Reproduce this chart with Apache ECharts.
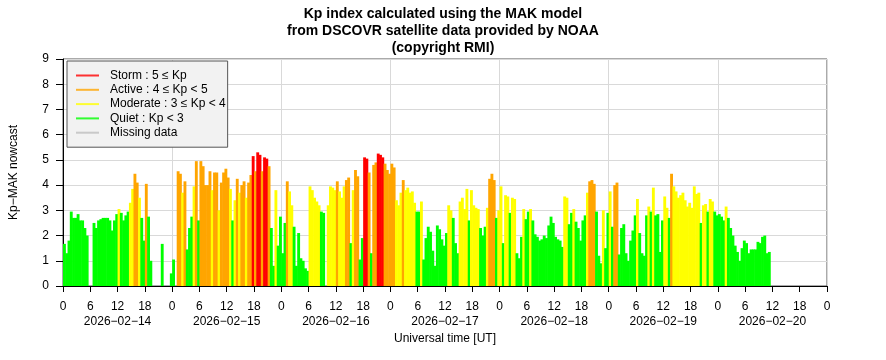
<!DOCTYPE html>
<html><head><meta charset="utf-8">
<script src="https://cdn.jsdelivr.net/npm/echarts@6/dist/echarts.min.js"></script>
<style>html,body{margin:0;padding:0;background:#fff}#c{width:886px;height:360px}</style>
</head><body><div id="c"></div>
<script>
// Kp (MAK nowcast), 30-minute steps starting 2026-02-14 00:00 UT; null = no data
const stepHours = 0.5;
const kp = [
1.67,1.3,1.8,2.95,2.7,2.7,2.85,2.6,2.6,2.3,2.0,null,null,2.5,2.3,2.6,2.65,2.7,2.7,2.7,
2.6,2.2,2.6,2.85,3.05,2.9,2.6,2.8,2.95,3.3,3.85,4.45,4.1,3.5,2.7,1.8,4.05,2.75,1.0,null,
null,null,null,1.67,null,null,null,0.5,1.05,null,4.55,4.45,3.7,4.15,1.45,2.3,2.75,3.95,4.95,2.6,
4.95,4.75,4.0,4.0,4.55,3.8,4.5,4.5,3.0,4.1,4.5,4.65,4.3,3.85,2.6,3.4,4.25,3.7,4.0,4.15,
3.5,4.1,4.4,5.15,4.55,5.3,5.2,4.55,5.1,5.05,4.75,2.3,0.8,3.8,1.6,2.75,1.3,2.5,4.15,3.75,
3.2,2.35,0.8,2.1,1.1,1.0,0.7,0.6,3.95,3.8,3.5,3.35,3.2,2.95,2.9,null,3.2,3.95,3.9,3.8,
4.15,3.75,3.5,3.95,4.2,4.3,1.7,3.8,4.6,4.35,1.05,1.9,5.1,5.05,4.5,1.3,4.8,4.9,5.25,5.2,
5.1,4.85,4.6,4.45,4.85,4.7,3.4,3.2,3.7,4.2,3.8,3.9,3.7,3.75,3.3,2.95,2.95,3.35,1.05,1.9,
2.35,2.15,1.4,0.8,2.4,2.25,1.85,1.6,2.1,3.2,3.0,2.7,1.7,1.3,3.35,3.5,3.05,3.85,2.6,3.8,
3.2,3.1,3.05,2.3,2.0,2.35,3.1,4.25,4.45,4.2,2.7,3.0,3.95,1.7,3.6,3.55,2.9,3.5,3.45,1.3,
1.1,1.95,3.05,2.65,2.95,3.05,2.6,2.05,1.95,1.8,1.85,2.0,1.9,2.4,2.75,2.5,1.95,1.85,1.8,1.55,
3.55,3.5,2.45,2.9,3.05,2.55,2.3,1.8,2.6,2.8,3.7,4.15,4.2,4.05,2.95,1.2,0.9,3.0,1.5,2.9,
3.75,2.35,4.0,4.1,1.25,2.3,2.45,1.3,1.0,1.8,2.2,2.8,3.45,2.1,1.3,1.2,2.8,3.15,2.95,3.9,
2.8,2.85,1.35,2.6,3.55,3.1,2.7,4.45,3.95,3.75,3.5,3.6,3.7,3.4,3.15,3.3,3.1,3.95,3.65,3.7,
2.5,3.2,3.25,2.95,3.45,3.35,2.95,2.8,2.85,2.75,2.6,3.15,2.7,2.3,2.0,1.6,1.35,1.0,1.5,1.8,
1.7,1.3,1.45,1.45,1.45,1.75,1.7,1.95,2.0,1.3,1.35
];
const dayLabels = ['2026−02−14','2026−02−15','2026−02−16','2026−02−17','2026−02−18','2026−02−19','2026−02−20'];
const classNames = ['Storm : 5 ≤ Kp','Active : 4 ≤ Kp < 5','Moderate : 3 ≤ Kp < 4','Quiet : Kp < 3','Missing data'];
const classColors = ['#ff0000','#ffa500','#ffff00','#00ff00','#bebebe'];
const classLimits = [5, 4, 3];
const titleLines = ['Kp index calculated using the MAK model','from DSCOVR satellite data provided by NOAA','(copyright RMI)'];

function kpColor(v){
  for (let i = 0; i < classLimits.length; i++) if (v >= classLimits[i]) return classColors[i];
  return classColors[3];
}
const barData = [];
kp.forEach((v, i) => { if (v !== null) barData.push([i * stepHours, v]); });

const FONT = 'Liberation Sans, Arial, sans-serif';
const chart = echarts.init(document.getElementById('c'), null, {renderer: 'canvas'});
chart.setOption({
  animation: false,
  textStyle: {fontFamily: FONT},
  title: {
    text: titleLines.join('\n'), left: 'center', top: 1,
    textStyle: {fontFamily: FONT, fontSize: 14, fontWeight: 'bold', lineHeight: 17, color: '#000'}
  },
  grid: {left: 59, right: 59, top: 59, bottom: 74, show: true, borderColor: '#555', borderWidth: 1, containLabel: false},
  legend: {
    orient: 'vertical', left: 67, top: 61,
    data: classNames,
    icon: 'rect', itemWidth: 23, itemHeight: 2, itemGap: 2.3,
    backgroundColor: '#f2f2f2', borderColor: '#555', borderWidth: 1,
    padding: [8.5, 2, 8.5, 9],
    selectedMode: false,
    textStyle: {fontFamily: FONT, fontSize: 12, color: '#000', lineHeight: 12, padding: [0, 0, 0, 6]}
  },
  xAxis: [
    {
      type: 'value', min: 0, max: 168, interval: 6, position: 'bottom',
      axisLine: {show: true, lineStyle: {color: '#000', width: 1}},
      axisTick: {show: true, length: 6, lineStyle: {color: '#000'}},
      axisLabel: {fontFamily: FONT, fontSize: 12, color: '#000', margin: 15, formatter: v => String(v % 24)},
      splitLine: {show: false}
    },
    {
      type: 'value', min: 0, max: 168, interval: 12, position: 'bottom',
      axisLine: {show: false}, axisTick: {show: false}, splitLine: {show: false},
      axisLabel: {fontFamily: FONT, fontSize: 12, color: '#000', margin: 30,
        formatter: v => (v % 24 === 12 ? dayLabels[(v - 12) / 24] : '')},
      name: 'Universal time [UT]', nameLocation: 'middle', nameGap: 44,
      nameTextStyle: {fontFamily: FONT, fontSize: 12, color: '#000'}
    },
    {
      type: 'value', min: 0, max: 168, interval: 24, position: 'top',
      axisLine: {show: false}, axisTick: {show: false}, axisLabel: {show: false},
      splitLine: {show: true, lineStyle: {color: '#d9d9d9', width: 1}}
    }
  ],
  yAxis: {
    type: 'value', min: 0, max: 9, interval: 1,
    axisLine: {show: true, lineStyle: {color: '#000', width: 1}},
    axisTick: {show: true, length: 7, lineStyle: {color: '#000'}},
    axisLabel: {fontFamily: FONT, fontSize: 12, color: '#000', margin: 14},
    splitLine: {show: true, lineStyle: {color: '#d9d9d9', width: 1}},
    name: 'Kp−MAK nowcast', nameLocation: 'middle', nameGap: 43,
    nameTextStyle: {fontFamily: FONT, fontSize: 12, color: '#000'}
  },
  series: [
    {
      name: 'Kp', type: 'custom', xAxisIndex: 0, data: barData,
      encode: {x: 0, y: 1},
      renderItem: function (params, api) {
        const t = api.value(0), v = api.value(1);
        const top = api.coord([t, v]);
        const base = api.coord([t + stepHours, 0]);
        return {
          type: 'rect',
          shape: {x: top[0], y: top[1], width: base[0] - top[0] + 0.6, height: base[1] - top[1]},
          style: {fill: kpColor(v)}
        };
      }
    }
  ].concat(classNames.map((n, i) => ({
    name: n, type: 'scatter', xAxisIndex: 0, data: [], itemStyle: {color: classColors[i]}
  })))
});
</script>
</body></html>
